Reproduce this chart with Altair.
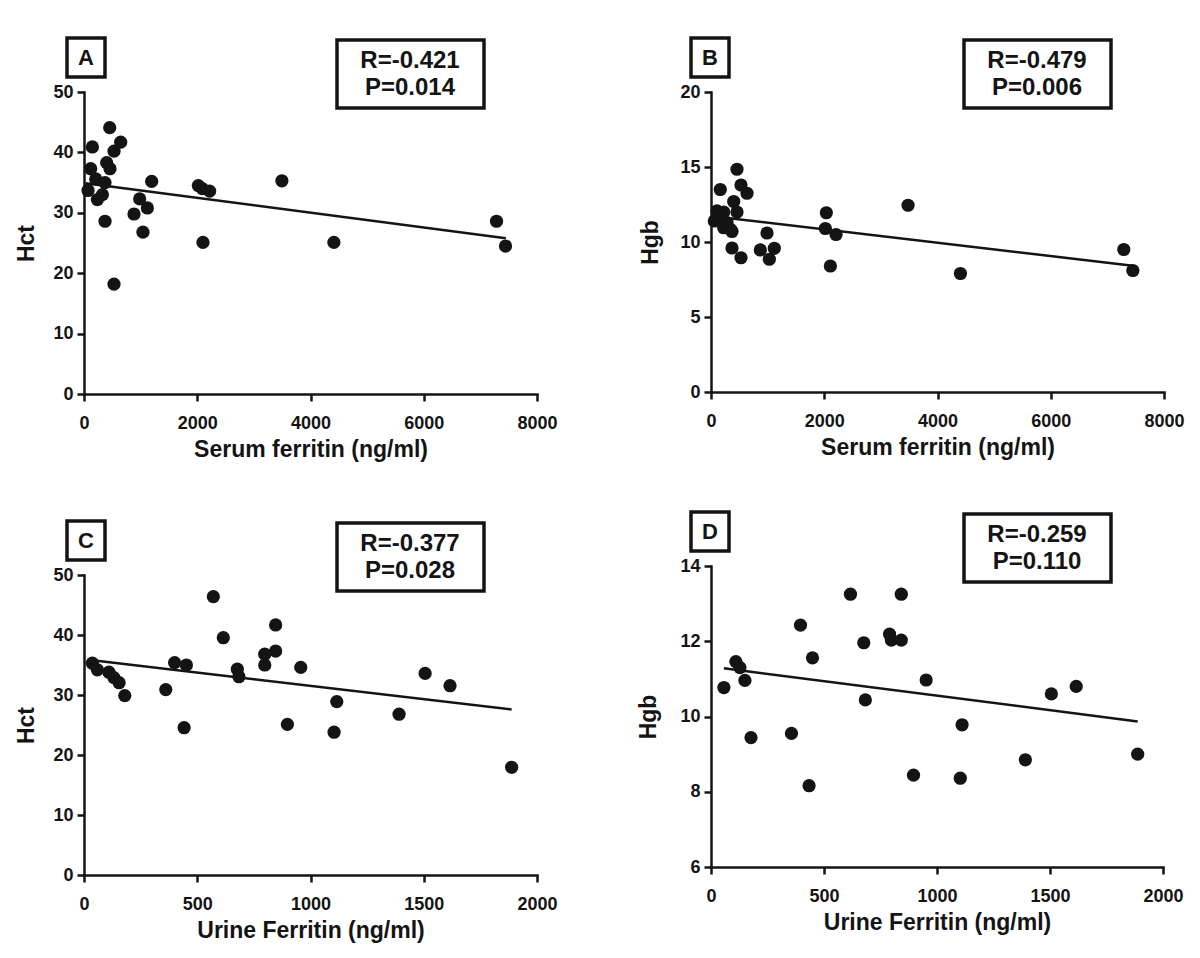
import altair as alt
import pandas as pd

FONT = "Liberation Sans"
INK = "#141414"

# ---------------- data ----------------
# Panel A: serum ferritin vs Hct
a_x = [454, 148, 648, 530, 118, 400, 459, 207, 371, 71, 237, 325, 1195, 983, 1119, 883,
       371, 1041, 2019, 2090, 2219, 2101, 530, 3495, 4413, 7285, 7444]
a_y = [44.1, 40.9, 41.7, 40.2, 37.3, 38.3, 37.3, 35.6, 35.0, 33.7, 32.2, 33.0, 35.2, 32.3, 30.8, 29.8,
       28.6, 26.8, 34.5, 34.0, 33.6, 25.1, 18.2, 35.3, 25.1, 28.6, 24.5]
a_fit_x = [25, 7450]
a_fit_y = [34.9, 25.8]

# Panel B: serum ferritin vs Hgb
b_x = [459, 164, 530, 636, 401, 106, 224, 459, 58, 164, 283, 224, 342, 371, 989, 371, 530, 871,
       1118, 1030, 2037, 2019, 2208, 2108, 3480, 4405, 7290, 7450]
b_y = [14.85, 13.5, 13.8, 13.25, 12.7, 12.07, 12.0, 12.0, 11.4, 11.5, 11.3, 10.95, 10.85, 10.7, 10.6, 9.6, 8.95, 9.47,
       9.58, 8.85, 11.95, 10.9, 10.5, 8.4, 12.45, 7.9, 9.5, 8.1]
b_fit_x = [58, 7450]
b_fit_y = [11.7, 8.42]

# Panel C: urine ferritin vs Hct
c_x = [37, 59, 110, 132, 155, 180, 361, 400, 452, 442, 571, 615, 677, 684, 798, 798, 846, 846,
       957, 898, 1116, 1104, 1391, 1506, 1616, 1888]
c_y = [35.3, 34.2, 33.8, 32.9, 32.05, 29.9, 30.9, 35.4, 35.0, 24.55, 46.4, 39.55, 34.3, 33.05, 36.8, 35.0, 41.67, 37.33,
       34.6, 25.1, 28.9, 23.8, 26.8, 33.6, 31.55, 17.95]
c_fit_x = [37, 1888]
c_fit_y = [35.8, 27.6]

# Panel D: urine ferritin vs Hgb
d_x = [57, 110, 128, 150, 177, 356, 396, 449, 434, 617, 676, 683, 790, 798, 842, 842, 952, 896,
       1111, 1103, 1391, 1506, 1616, 1888]
d_y = [10.77, 11.46, 11.3, 10.96, 9.44, 9.55, 12.43, 11.56, 8.16, 13.25, 11.96, 10.44, 12.19, 12.03, 12.03, 13.25, 10.97, 8.44,
       9.78, 8.36, 8.85, 10.6, 10.8, 9.0]
d_fit_x = [57, 1888]
d_fit_y = [11.28, 9.87]

serum_ticks = [0, 2000, 4000, 6000, 8000]
urine_ticks = [0, 500, 1000, 1500, 2000]
hct_ticks = [0, 10, 20, 30, 40, 50]
hgb_ticks_b = [0, 5, 10, 15, 20]
hgb_ticks_d = [6, 8, 10, 12, 14]

letters = ["A", "B", "C", "D"]
r_texts = ["R=-0.421", "R=-0.479", "R=-0.377", "R=-0.259"]
p_texts = ["P=0.014", "P=0.006", "P=0.028", "P=0.110"]


def panel(xs, ys, fx, fy, xdom, xticks, ydom, yticks, xtitle, ytitle,
          letter, rtxt, ptxt, w, h, ytitle_x, lab_x0):
    pts = pd.DataFrame({"x": xs, "y": ys})
    fit = pd.DataFrame({"x": fx, "y": fy})
    xsc = alt.Scale(domain=xdom, nice=False, zero=False)
    ysc = alt.Scale(domain=ydom, nice=False, zero=False)
    common = dict(grid=False, domainColor=INK, domainWidth=2.5, domainCap="square",
                  tickColor=INK, tickWidth=2.5, tickSize=7, format="d",
                  labelFont=FONT, labelFontSize=18, labelFontWeight="bold", labelColor=INK,
                  labelFlush=False, labelOverlap=False,
                  titleFont=FONT, titleFontSize=23, titleFontWeight="bold", titleColor=INK,
                  titleBaseline="middle")
    xaxis = alt.Axis(values=xticks, title=xtitle, labelPadding=13,
                     titleX=w / 2, titleY=55, **common)
    yaxis = alt.Axis(values=yticks, title=ytitle, labelPadding=4,
                     titleX=ytitle_x, titleY=h / 2, titleAngle=270, **common)

    points = alt.Chart(pts).mark_circle(size=175, color=INK, opacity=1).encode(
        x=alt.X("x:Q", scale=xsc, axis=xaxis),
        y=alt.Y("y:Q", scale=ysc, axis=yaxis),
    )
    line = alt.Chart(fit).mark_line(color=INK, strokeWidth=2.5).encode(
        x=alt.X("x:Q", scale=xsc), y=alt.Y("y:Q", scale=ysc)
    )
    ann = pd.DataFrame({"t": [letter], "r": [rtxt], "p": [ptxt]})
    lab_box = alt.Chart(ann).mark_rect(fill="white", stroke=INK, strokeWidth=3.5).encode(
        x=alt.value(lab_x0), x2=alt.value(lab_x0 + 38), y=alt.value(-54), y2=alt.value(-15)
    )
    lab_txt = alt.Chart(ann).mark_text(font=FONT, fontSize=22, fontWeight="bold", color=INK,
                                       align="center", baseline="middle").encode(
        x=alt.value(lab_x0 + 19), y=alt.value(-34), text="t:N"
    )
    r_box = alt.Chart(ann).mark_rect(fill="white", stroke=INK, strokeWidth=3.5).encode(
        x=alt.value(253), x2=alt.value(400), y=alt.value(-52), y2=alt.value(16)
    )
    r_txt = alt.Chart(ann).mark_text(font=FONT, fontSize=24, fontWeight="bold", color=INK,
                                     align="center", baseline="middle").encode(
        x=alt.value(326), y=alt.value(-31), text="r:N"
    )
    p_txt = alt.Chart(ann).mark_text(font=FONT, fontSize=24, fontWeight="bold", color=INK,
                                     align="center", baseline="middle").encode(
        x=alt.value(326), y=alt.value(-4), text="p:N"
    )
    return alt.layer(line, points, r_box, r_txt, p_txt, lab_box, lab_txt).properties(
        width=w, height=h
    )


pa = panel(a_x, a_y, a_fit_x, a_fit_y, [0, 8000], serum_ticks, [0, 50], hct_ticks,
           "Serum ferritin (ng/ml)", "Hct", letters[0], r_texts[0], p_texts[0], 453, 302, -58, -17)
pb = panel(b_x, b_y, b_fit_x, b_fit_y, [0, 8000], serum_ticks, [0, 20], hgb_ticks_b,
           "Serum ferritin (ng/ml)", "Hgb", letters[1], r_texts[1], p_texts[1], 453, 300, -61, -20)
pc = panel(c_x, c_y, c_fit_x, c_fit_y, [0, 2000], urine_ticks, [0, 50], hct_ticks,
           "Urine Ferritin (ng/ml)", "Hct", letters[2], r_texts[2], p_texts[2], 453, 300, -58, -17)
pd_ = panel(d_x, d_y, d_fit_x, d_fit_y, [0, 2000], urine_ticks, [6, 14], hgb_ticks_d,
            "Urine Ferritin (ng/ml)", "Hgb", letters[3], r_texts[3], p_texts[3], 452, 301, -63, -20)

left = alt.vconcat(pa, pc, spacing=181, bounds="flush")
right = alt.vconcat(pb, pd_, spacing=174, bounds="flush")

chart = alt.hconcat(left, right, spacing=78).properties(
    padding={"left": 6, "top": 27, "right": 5, "bottom": 5},
    background="white",
).configure_view(stroke="transparent")

chart.save("out.html", embed_options={"renderer": "svg", "actions": False})
